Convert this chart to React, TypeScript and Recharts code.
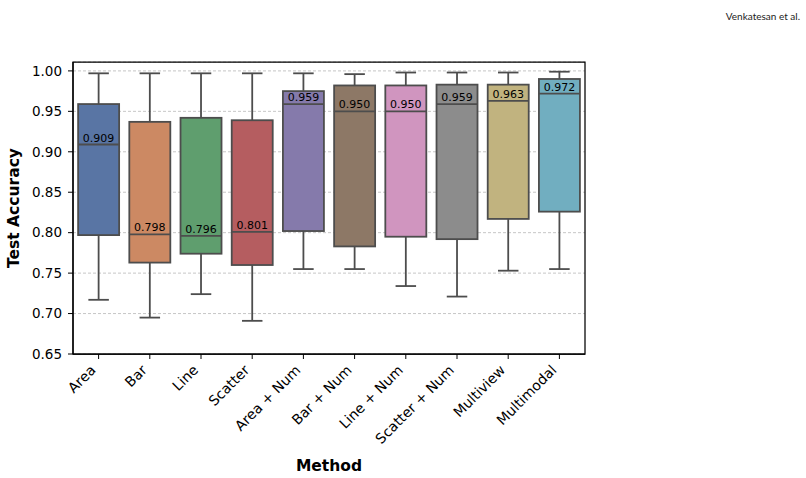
import React from 'react';
import { ComposedChart, Bar, XAxis, YAxis, CartesianGrid, ReferenceArea, Label } from 'recharts';

// five-number summaries per method
const methods = ['Area', 'Bar', 'Line', 'Scatter', 'Area + Num', 'Bar + Num', 'Line + Num', 'Scatter + Num', 'Multiview', 'Multimodal'];
const lows = [0.717, 0.695, 0.724, 0.691, 0.755, 0.755, 0.734, 0.721, 0.753, 0.755];
const q1s = [0.797, 0.763, 0.774, 0.760, 0.802, 0.783, 0.795, 0.792, 0.817, 0.826];
const medians = [0.909, 0.798, 0.796, 0.801, 0.959, 0.950, 0.950, 0.959, 0.963, 0.972];
const q3s = [0.959, 0.937, 0.942, 0.939, 0.975, 0.982, 0.982, 0.983, 0.983, 0.990];
const highs = [0.997, 0.997, 0.997, 0.997, 0.997, 0.996, 0.998, 0.998, 0.998, 0.999];
const yTicks = [0.65, 0.7, 0.75, 0.8, 0.85, 0.9, 0.95, 1.0];

// seaborn "deep" palette, desaturated as boxplot does
const colors = ['#5975a4', '#cc8963', '#5f9e6e', '#b55d60', '#857aab', '#8d7866', '#d095bf', '#8c8c8c', '#c1b37f', '#71aec0'];

const data = methods.map((name, i) => ({
  name,
  lo: lows[i],
  q1: q1s[i],
  med: medians[i],
  q3: q3s[i],
  hi: highs[i],
}));

const FONT = '"DejaVu Sans", sans-serif';
const LINE = '#4d4d4d';

const BoxShape = (props: any) => {
  const { x, y, width, height, payload, index } = props;
  const span = payload.hi - payload.lo;
  const at = (v: number) => y + ((payload.hi - v) / span) * height;
  const cx = x + width / 2;
  const cap = width / 4;
  const top = at(payload.q3);
  const bottom = at(payload.q1);
  const mid = at(payload.med);
  return (
    <g>
      <line x1={cx} x2={cx} y1={y} y2={top} stroke={LINE} strokeWidth={1.8} />
      <line x1={cx} x2={cx} y1={bottom} y2={y + height} stroke={LINE} strokeWidth={1.8} />
      <line x1={cx - cap} x2={cx + cap} y1={y} y2={y} stroke={LINE} strokeWidth={1.8} />
      <line x1={cx - cap} x2={cx + cap} y1={y + height} y2={y + height} stroke={LINE} strokeWidth={1.8} />
      <rect x={x} y={top} width={width} height={bottom - top} fill={colors[index]} stroke={LINE} strokeWidth={1.8} />
      <line x1={x} x2={x + width} y1={mid} y2={mid} stroke={LINE} strokeWidth={1.8} />
      <text x={cx} y={mid - 3} textAnchor="middle" fontSize={11} fontFamily={FONT} fill="#000">
        {payload.med.toFixed(3)}
      </text>
    </g>
  );
};

const MethodTick = (props: any) => {
  const { x, y, payload } = props;
  return (
    <g transform={`translate(${x - 2},${y + 10})`}>
      <text x={0} y={0} textAnchor="end" transform="rotate(-45)" fontSize={14} fontFamily={FONT} fill="#000">
        {payload.value}
      </text>
    </g>
  );
};

export default function App() {
  return (
    <div style={{ position: 'absolute', left: 0, top: 0, width: 806, height: 478, background: '#fff' }}>
      <div
        style={{
          position: 'absolute',
          right: 6,
          top: 10,
          fontFamily: 'Lato, sans-serif',
          fontSize: 10,
          color: '#222',
        }}
      >
        Venkatesan et al.
      </div>
      <ComposedChart
        width={806}
        height={478}
        data={data}
        margin={{ top: 62, right: 221, left: 23, bottom: 0 }}
        barCategoryGap="10%"
      >
        <CartesianGrid vertical={false} stroke="#b8b8b8" strokeDasharray="3 2" strokeWidth={0.8} />
        <XAxis
          dataKey="name"
          interval={0}
          height={124}
          tick={<MethodTick />}
          tickSize={5}
          tickLine={{ stroke: '#000' }}
          axisLine={{ stroke: '#000', strokeWidth: 1.25 }}
        >
          <Label
            content={({ viewBox }: any) => (
              <text
                x={viewBox.x + viewBox.width / 2}
                y={viewBox.y + viewBox.height - 7}
                textAnchor="middle"
                fontSize={15.5}
                fontWeight="bold"
                fontFamily={FONT}
                fill="#000"
              >
                Method
              </text>
            )}
          />
        </XAxis>
        <YAxis
          width={50}
          domain={[0.65, 1.011]}
          ticks={yTicks}
          allowDataOverflow
          tickFormatter={(v: number) => v.toFixed(2)}
          tick={{ fontSize: 13.5, fontFamily: FONT, fill: '#000' }}
          tickSize={5}
          tickMargin={6}
          tickLine={{ stroke: '#000' }}
          axisLine={{ stroke: '#000', strokeWidth: 1.25 }}
        >
          <Label
            content={({ viewBox }: any) => {
              const cx = viewBox.x - 9;
              const cy = viewBox.y + viewBox.height / 2;
              return (
                <text
                  x={cx}
                  y={cy}
                  textAnchor="middle"
                  dominantBaseline="central"
                  transform={`rotate(-90, ${cx}, ${cy})`}
                  fontSize={15.5}
                  fontWeight="bold"
                  fontFamily={FONT}
                  fill="#000"
                >
                  Test Accuracy
                </text>
              );
            }}
          />
        </YAxis>
        <Bar dataKey={(d: any) => [d.lo, d.hi]} shape={<BoxShape />} isAnimationActive={false} />
        <ReferenceArea y1={0.65} y2={1.011} fill="none" stroke="#000" strokeWidth={1.25} ifOverflow="extendDomain" />
      </ComposedChart>
    </div>
  );
}
